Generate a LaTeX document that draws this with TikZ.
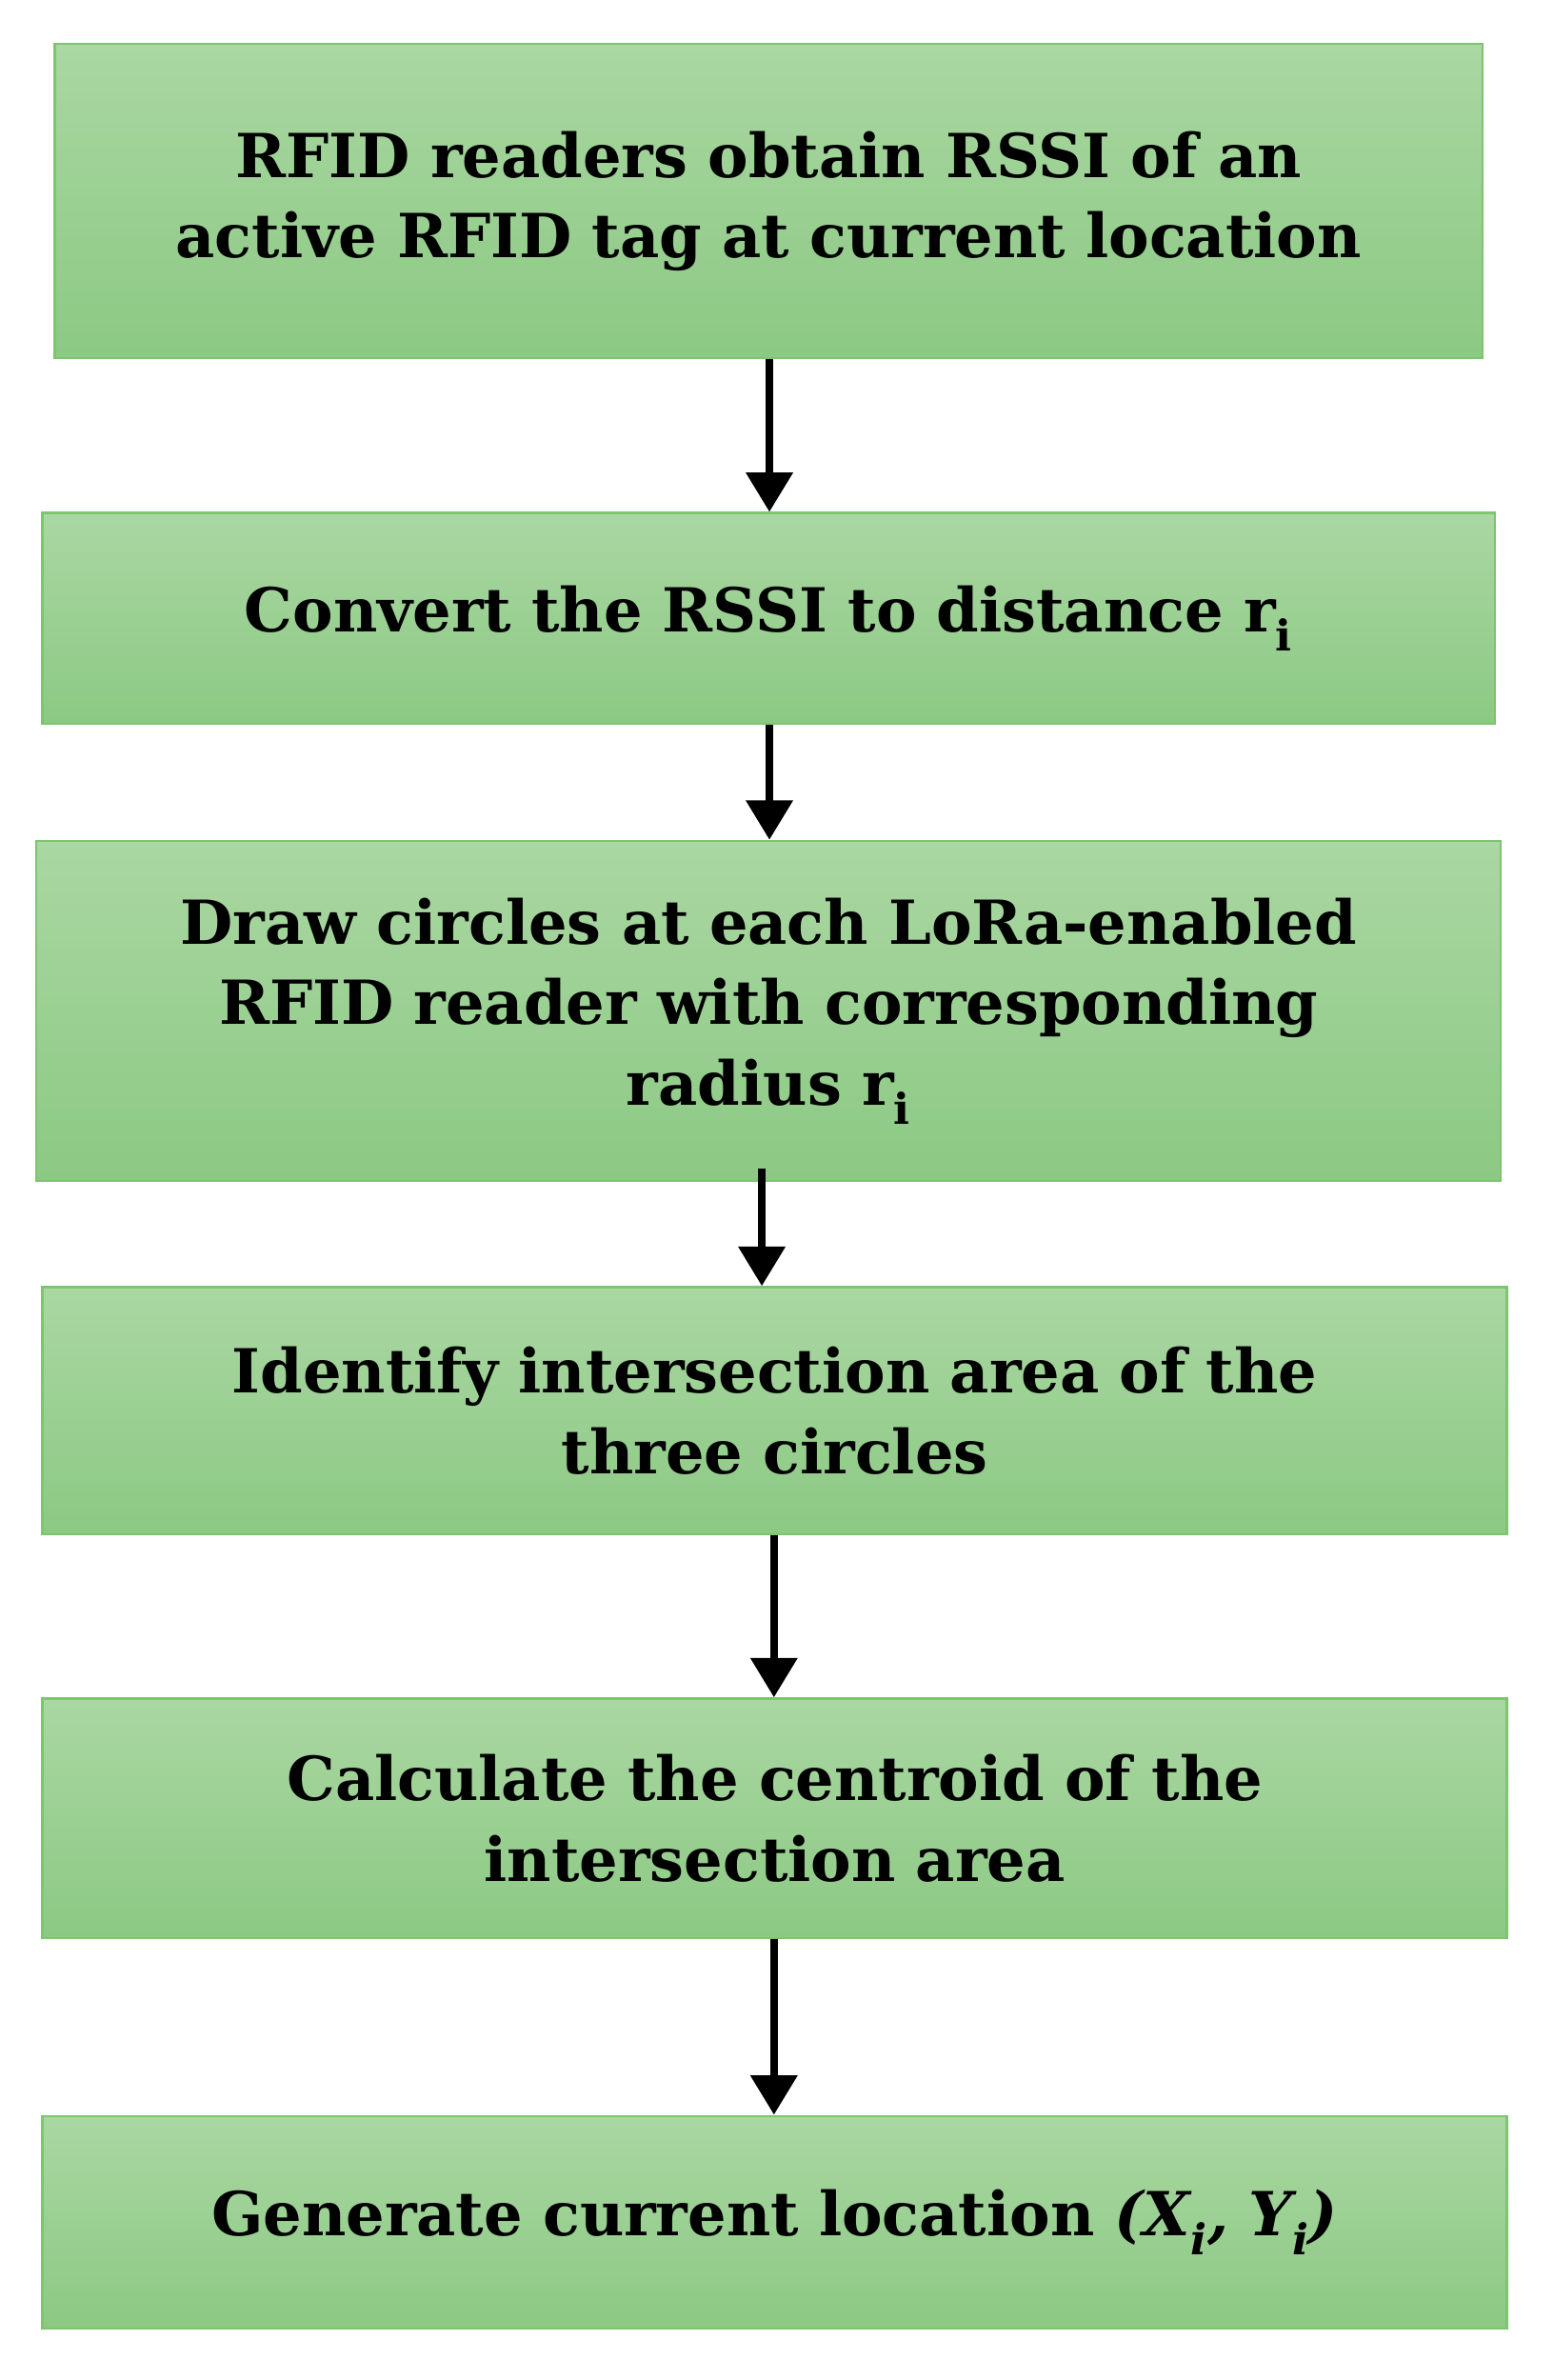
\documentclass[tikz,border=0pt]{standalone}
\usepackage{fontspec}
\setmainfont{DejaVu Serif}
\usetikzlibrary{arrows.meta}
\begin{document}
\begin{tikzpicture}[x=1pt,y=-1pt,
 box/.style={draw={rgb,255:red,125;green,197;blue,111}, line width=1.5pt,
   top color={rgb,255:red,170;green,215;blue,162}, bottom color={rgb,255:red,140;green,201;blue,132},
   align=center, font=\fontsize{40}{53}\selectfont\bfseries, inner sep=0pt},
 arr/.style={line width=5pt, -{Triangle[length=26pt,width=30pt]}}]
\useasboundingbox (0,0) rectangle (1024,1568);
\node[box, minimum width=941pt, minimum height=207pt, text width=930pt] (b1) at (506.5,132.5) {RFID readers obtain RSSI of an\\active RFID tag at current location};
\node[box, minimum width=957pt, minimum height=139pt, text width=930pt] (b2) at (506.5,407.5) {Convert the RSSI to distance r\textsubscript{i}};
\node[box, minimum width=965pt, minimum height=224pt, text width=940pt] (b3) at (506.5,666) {Draw circles at each LoRa-enabled\\RFID reader with corresponding\\radius r\textsubscript{i}};
\node[box, minimum width=965pt, minimum height=163pt, text width=940pt] (b4) at (510.5,929.5) {Identify intersection area of the\\three circles};
\node[box, minimum width=965pt, minimum height=158pt, text width=940pt] (b5) at (510.5,1198) {Calculate the centroid of the\\intersection area};
\node[box, minimum width=965pt, minimum height=140pt, text width=940pt] (b6) at (510.5,1464) {Generate current location \textit{(X\textsubscript{i}, Y\textsubscript{i})}};
\draw[arr] (507,0 |- b1.south) -- (507,0 |- b2.north);
\draw[arr] (507,0 |- b2.south) -- (507,0 |- b3.north);
\draw[arr] (502,770) -- (502,0 |- b4.north);
\draw[arr] (510,0 |- b4.south) -- (510,0 |- b5.north);
\draw[arr] (510,0 |- b5.south) -- (510,0 |- b6.north);
\end{tikzpicture}
\end{document}
